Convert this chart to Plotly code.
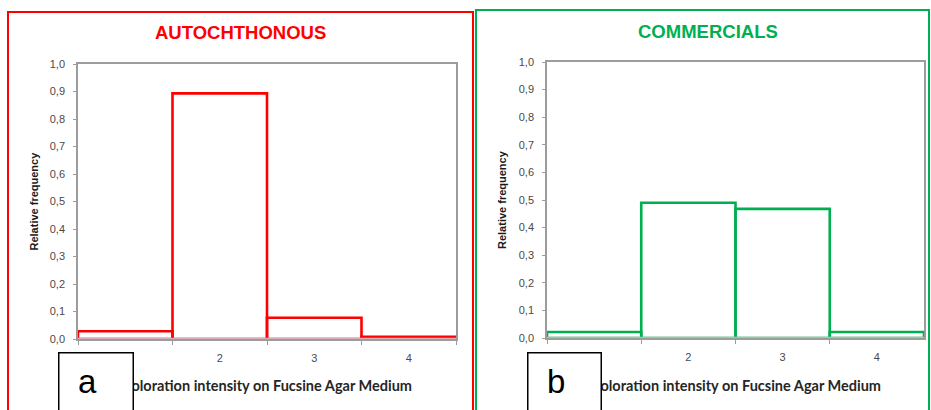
import plotly.graph_objects as go

W, H = 931, 410

categories = ["1", "2", "3", "4"]
autochthonous = [0.028, 0.893, 0.077, 0.008]
commercials = [0.022, 0.490, 0.468, 0.022]
y_ticks = [0.0, 0.1, 0.2, 0.3, 0.4, 0.5, 0.6, 0.7, 0.8, 0.9, 1.0]
panel_titles = ["AUTOCHTHONOUS", "COMMERCIALS"]
panel_letters = ["a", "b"]
x_title = "Coloration intensity on Fucsine Agar Medium"
y_title = "Relative frequency"

RED = "#FF0000"
GREEN = "#00B050"
AXIS = "#9c9c9c"
TICKFONT = dict(family="Liberation Sans, Arial", size=11, color="#4a4a4a")


def px(x):
    return x / W


def py(y):
    return 1 - y / H


fig = go.Figure()
fig.add_trace(go.Bar(x=categories, y=autochthonous, width=1,
                     marker=dict(color="rgba(0,0,0,0)", line=dict(color=RED, width=2.6)),
                     xaxis="x", yaxis="y", showlegend=False))
fig.add_trace(go.Bar(x=categories, y=commercials, width=1,
                     marker=dict(color="rgba(0,0,0,0)", line=dict(color=GREEN, width=2.6)),
                     xaxis="x2", yaxis="y2", showlegend=False))

def xaxis(dom, anchor):
    return dict(domain=dom, anchor=anchor, type="category", range=[-0.5, 3.5],
                tickson="boundaries", ticks="outside", ticklen=4, tickcolor=AXIS,
                ticklabelstandoff=8,
                showline=True, linecolor=AXIS, linewidth=1.5, mirror=True,
                showgrid=False, zeroline=False, tickfont=TICKFONT, fixedrange=True)

def yaxis(dom, anchor):
    return dict(domain=dom, anchor=anchor, range=[0, 1], tickvals=y_ticks,
                tickformat=".1f", ticks="outside", ticklen=3, tickcolor=AXIS,
                ticklabelstandoff=6,
                showline=True, linecolor=AXIS, linewidth=1.5, mirror=True,
                showgrid=False, zeroline=False, tickfont=TICKFONT, fixedrange=True)

panels = [
    dict(x0=78, x1=456, y0=64, y1=339, color=RED, base="#d9aab3", xr="x", yr="y",
         box=(8, 473, 12), title_x=240, title_y=33, letter_box=(58, 133), letter_x=87),
    dict(x0=547, x1=924, y0=62, y1=338, color=GREEN, base="#9fc8b0", xr="x2", yr="y2",
         box=(476, 929, 10), title_x=708, title_y=32, letter_box=(527, 601), letter_x=556),
]

fig.update_layout(
    width=W, height=H, margin=dict(l=0, r=0, t=0, b=0, autoexpand=False),
    paper_bgcolor="white", plot_bgcolor="white", separators=",.",
    barmode="overlay",
    xaxis=xaxis([px(78), px(456)], "y"),
    yaxis=yaxis([py(339), py(64)], "x"),
    xaxis2=xaxis([px(547), px(924)], "y2"),
    yaxis2=yaxis([py(338), py(62)], "x2"),
)

shapes = []
annotations = []
for i, p in enumerate(panels):
    bx0, bx1, by0 = p["box"]
    shapes.append(dict(type="rect", xref="paper", yref="paper",
                       x0=px(bx0), x1=px(bx1), y0=py(430), y1=py(by0),
                       line=dict(color=p["color"], width=2), layer="below"))
    # baseline of the histogram (blended axis / bar bottom edge)
    shapes.append(dict(type="line", xref=p["xr"] + " domain", yref=p["yr"],
                       x0=0, x1=1, y0=0, y1=0,
                       line=dict(color=p["base"], width=2.5), layer="above"))
    annotations.append(dict(text=panel_titles[i], xref="paper", yref="paper",
                            x=px(p["title_x"]), y=py(p["title_y"]), showarrow=False,
                            xanchor="center", yanchor="middle",
                            font=dict(family="Liberation Sans, Arial", size=18.5,
                                      color=p["color"], weight="bold")))
    cx = (p["x0"] + p["x1"]) / 2
    cy = (p["y0"] + p["y1"]) / 2
    annotations.append(dict(text="<b>" + x_title + "</b>", xref="paper", yref="paper",
                            x=px(cx), y=py(385), showarrow=False,
                            xanchor="center", yanchor="middle",
                            font=dict(family="Lato", size=14.5, color="#262626")))
    annotations.append(dict(text="<b>" + y_title + "</b>", xref="paper", yref="paper",
                            x=px(p["x0"] - 45), y=py(cy), showarrow=False, textangle=-90,
                            xanchor="center", yanchor="middle",
                            font=dict(family="Liberation Sans, Arial", size=11, color="#1a1a1a")))
    lx0, lx1 = p["letter_box"]
    annotations.append(dict(text="&nbsp;", xref="paper", yref="paper",
                            x=px(lx0), y=py(352), showarrow=False,
                            xanchor="left", yanchor="top",
                            width=lx1 - lx0 - 2, height=80,
                            bgcolor="white", bordercolor="black", borderwidth=1.5,
                            borderpad=0, font=dict(size=10)))
    annotations.append(dict(text=panel_letters[i], xref="paper", yref="paper",
                            x=px(p["letter_x"]), y=py(381), showarrow=False,
                            xanchor="center", yanchor="middle",
                            font=dict(family="Liberation Sans, Arial", size=33, color="black")))

fig.update_layout(shapes=shapes, annotations=annotations)
fig.write_html("out.html")
